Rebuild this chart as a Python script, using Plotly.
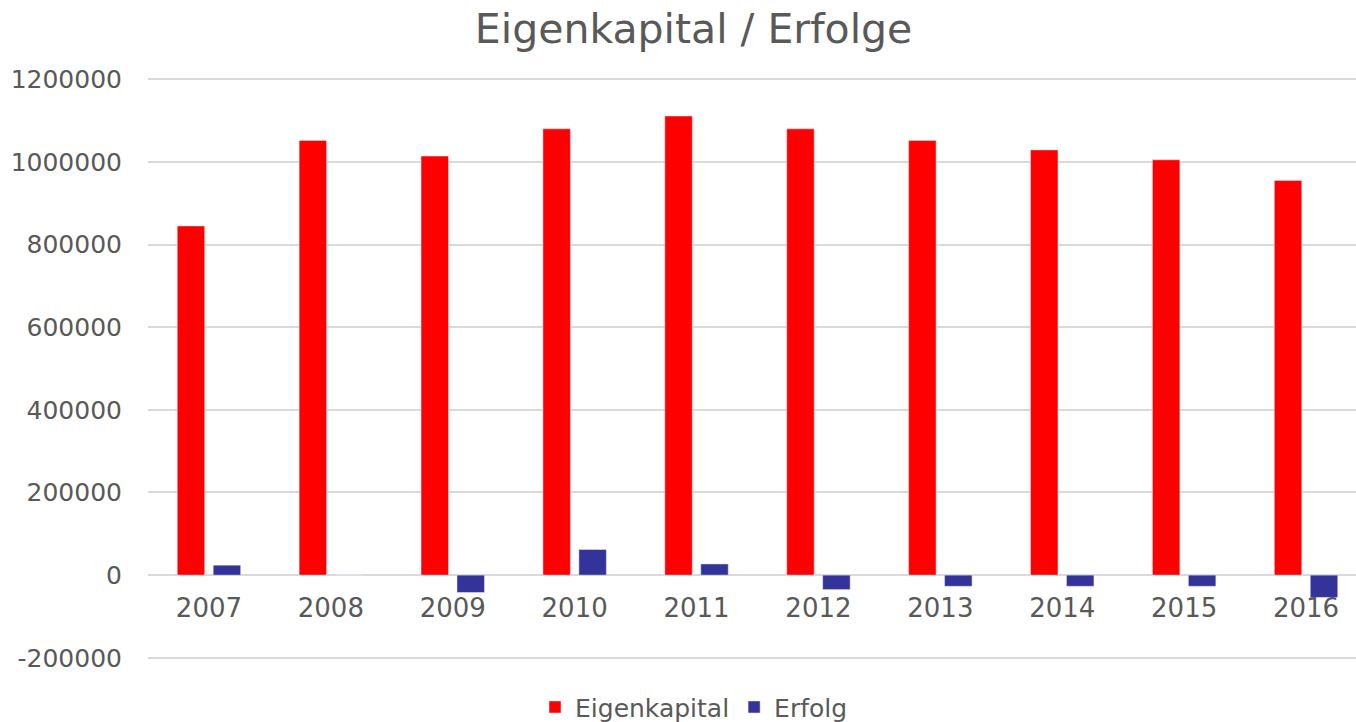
import plotly.graph_objects as go

years = ["2007", "2008", "2009", "2010", "2011", "2012", "2013", "2014", "2015", "2016"]
eigenkapital = [845000, 1052000, 1014000, 1080000, 1111000, 1080000, 1052000, 1029000, 1005000, 955000]
erfolg = [24000, 0, -42000, 62000, 27000, -35000, -27000, -27000, -27000, -54000]
y_ticks = [-200000, 0, 200000, 400000, 600000, 800000, 1000000, 1200000]

font_family = "Verdana, DejaVu Sans, sans-serif"
text_color = "#595959"
y_min, y_max = -203000, 1203000

fig = go.Figure()
fig.add_trace(go.Bar(x=years, y=eigenkapital, name="Eigenkapital", marker_color="#FF0000"))
fig.add_trace(go.Bar(x=years, y=erfolg, name="Erfolg", marker_color="#333399"))

fig.update_layout(
    width=1356, height=722,
    margin=dict(l=148, r=0, t=78, b=63, autoexpand=False),
    paper_bgcolor="white", plot_bgcolor="white",
    barmode="group", bargap=0.41, bargroupgap=0.236,
    title=dict(text="Eigenkapital / Erfolge", x=0.5115, xanchor="center", y=0.961, yanchor="middle",
               font=dict(family=font_family, size=41, color=text_color)),
    font=dict(family=font_family, size=25, color=text_color),
    legend=dict(orientation="h", x=0.452, xanchor="center", y=-0.083, yanchor="middle",
                font=dict(family=font_family, size=25, color=text_color),
                itemwidth=30, traceorder="normal"),
    showlegend=True,
)
fig.update_yaxes(range=[y_min, y_max], tickvals=y_ticks, ticktext=[str(v) for v in y_ticks],
                 showgrid=True, gridcolor="#D9D9D9", gridwidth=1.5, zeroline=True,
                 zerolinecolor="#D9D9D9", zerolinewidth=1.5, showline=False, ticks="",
                 ticklabelstandoff=25, automargin=False,
                 tickfont=dict(family=font_family, size=25, color=text_color))
fig.update_xaxes(range=[-0.5, 9.41], showline=False, ticks="", showgrid=False,
                 tickfont=dict(family=font_family, size=26, color=text_color),
                 anchor="free", position=-y_min / (y_max - y_min), automargin=False,
                 ticklabelstandoff=15)

fig.write_html("out.html", post_script="document.body.style.margin='0px';",
               config={"displayModeBar": False})
